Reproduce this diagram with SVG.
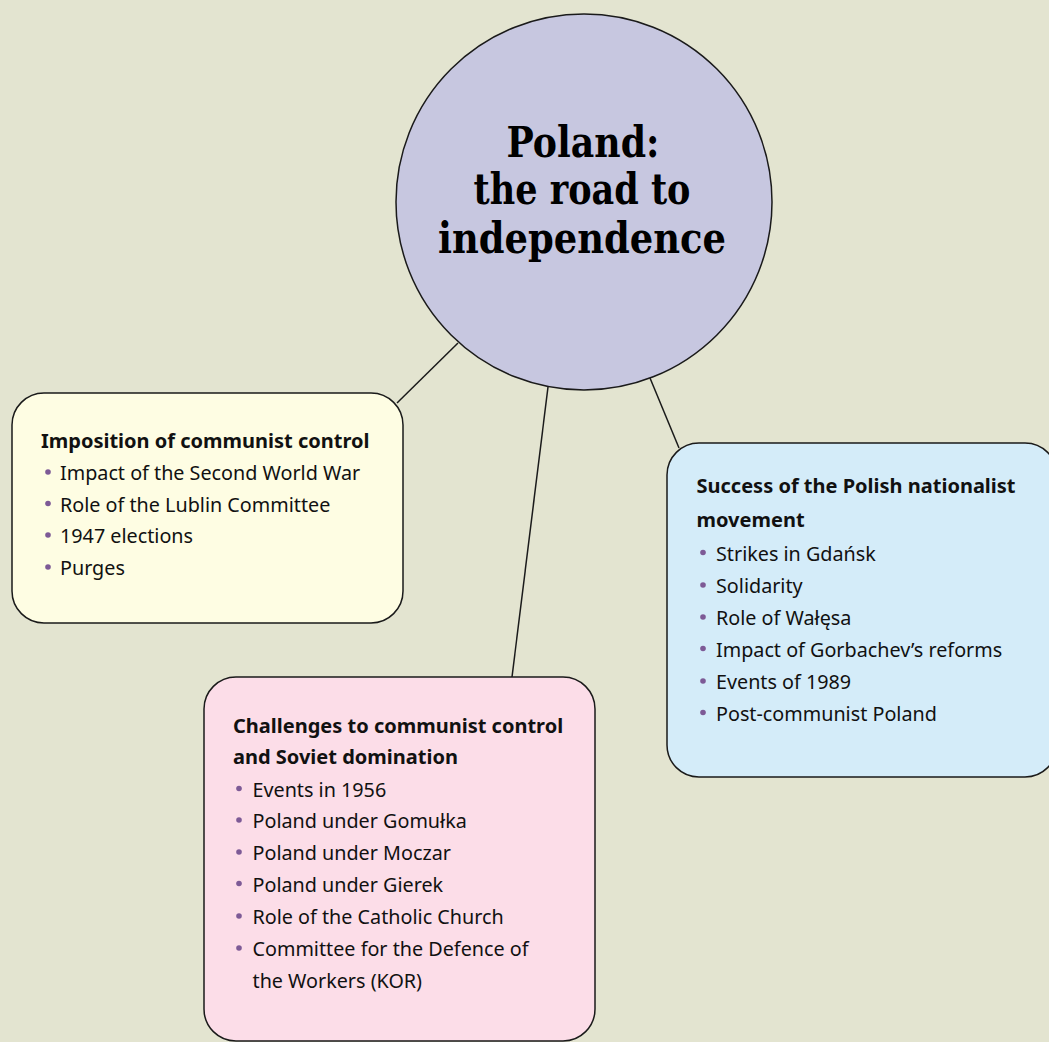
<svg xmlns="http://www.w3.org/2000/svg" width="1049" height="1042" viewBox="0 0 1049 1042">
<style>
.box{stroke:#1a1a1a;stroke-width:1.5}
.conn{stroke:#1a1a1a;stroke-width:1.5;fill:none}
.title{font-family:"DejaVu Serif",serif;font-weight:bold;font-size:42px;fill:#000;text-anchor:middle}
.hd{font-family:"Noto Sans",Lato,sans-serif;font-weight:bold;font-size:20px;fill:#111}
.it{font-family:"Noto Sans",Lato,sans-serif;font-size:19.75px;fill:#111}
.dot{fill:#7d5a96}
</style>
<rect width="1049" height="1042" fill="#e3e4d0"/>
<g id="connectors">
<line class="conn" x1="458" y1="343" x2="397" y2="403"/>
<line class="conn" x1="548" y1="387" x2="512" y2="677"/>
<line class="conn" x1="650" y1="378" x2="679" y2="448"/>
</g>
<g id="center">
<circle cx="584" cy="202" r="188" fill="#c7c7e0" class="box"/>
<text class="title" x="583" y="157" textLength="153" lengthAdjust="spacingAndGlyphs">Poland:</text>
<text class="title" x="582" y="204" textLength="217" lengthAdjust="spacingAndGlyphs">the road to</text>
<text class="title" x="582" y="253" textLength="288" lengthAdjust="spacingAndGlyphs">independence</text>
</g>
<g id="imposition">
<rect x="12" y="393" width="391" height="230" rx="32" fill="#fefde3" class="box"/>
<text class="hd" x="41" y="448">Imposition of communist control</text>
<circle class="dot" cx="48" cy="472" r="2.8"/><text class="it" x="60" y="480">Impact of the Second World War</text>
<circle class="dot" cx="48" cy="503.5" r="2.8"/><text class="it" x="60" y="511.5">Role of the Lublin Committee</text>
<circle class="dot" cx="48" cy="535" r="2.8"/><text class="it" x="60" y="543">1947 elections</text>
<circle class="dot" cx="48" cy="567" r="2.8"/><text class="it" x="60" y="575">Purges</text>
</g>
<g id="challenges">
<rect x="204" y="677" width="391" height="364" rx="32" fill="#fcdde8" class="box"/>
<text class="hd" x="233" y="733">Challenges to communist control</text>
<text class="hd" x="233" y="764">and Soviet domination</text>
<circle class="dot" cx="239" cy="788.5" r="2.8"/><text class="it" x="252.5" y="796.5">Events in 1956</text>
<circle class="dot" cx="239" cy="820" r="2.8"/><text class="it" x="252.5" y="828">Poland under Gomułka</text>
<circle class="dot" cx="239" cy="852" r="2.8"/><text class="it" x="252.5" y="860">Poland under Moczar</text>
<circle class="dot" cx="239" cy="883.5" r="2.8"/><text class="it" x="252.5" y="891.5">Poland under Gierek</text>
<circle class="dot" cx="239" cy="916" r="2.8"/><text class="it" x="252.5" y="924">Role of the Catholic Church</text>
<circle class="dot" cx="239" cy="948" r="2.8"/><text class="it" x="252.5" y="956">Committee for the Defence of</text>
<text class="it" x="252.5" y="987.5">the Workers (KOR)</text>
</g>
<g id="success">
<rect x="667" y="443" width="390" height="334" rx="32" fill="#d4ecf9" class="box"/>
<text class="hd" x="696.5" y="493">Success of the Polish nationalist</text>
<text class="hd" x="696.5" y="526.5">movement</text>
<circle class="dot" cx="703" cy="552.5" r="2.8"/><text class="it" x="716" y="560.5">Strikes in Gdańsk</text>
<circle class="dot" cx="703" cy="585" r="2.8"/><text class="it" x="716" y="593">Solidarity</text>
<circle class="dot" cx="703" cy="617" r="2.8"/><text class="it" x="716" y="625">Role of Wałęsa</text>
<circle class="dot" cx="703" cy="648.5" r="2.8"/><text class="it" x="716" y="656.5">Impact of Gorbachev’s reforms</text>
<circle class="dot" cx="703" cy="681" r="2.8"/><text class="it" x="716" y="689">Events of 1989</text>
<circle class="dot" cx="703" cy="712.5" r="2.8"/><text class="it" x="716" y="720.5">Post-communist Poland</text>
</g>
</svg>
